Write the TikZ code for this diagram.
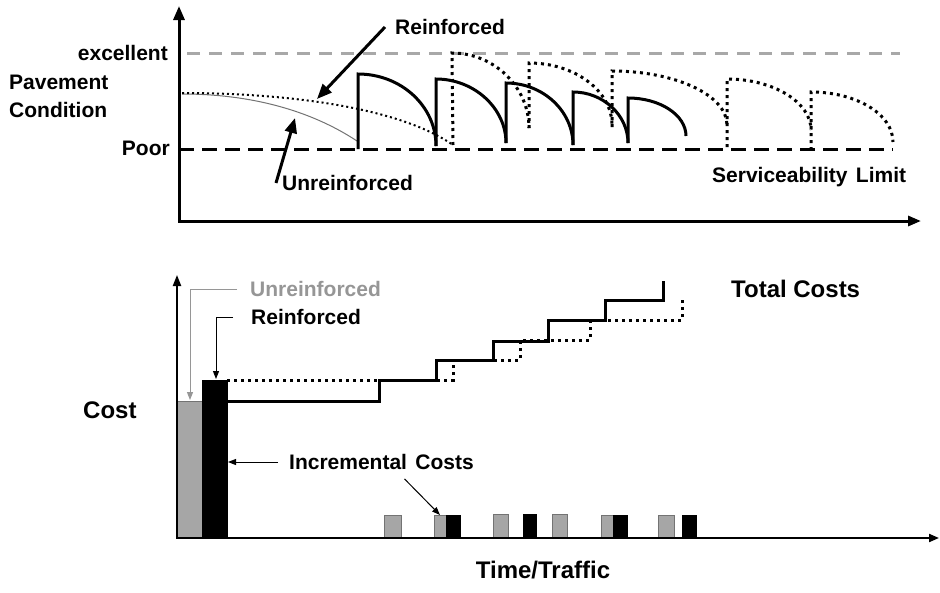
\documentclass[tikz,border=0pt]{standalone}
\usepackage{fontspec}
\setmainfont{Liberation Sans}
\usetikzlibrary{arrows.meta}
\definecolor{bargray}{RGB}{166,166,166}
\definecolor{edgegray}{RGB}{115,115,115}
\definecolor{txtgray}{RGB}{150,150,150}
\definecolor{linegray}{RGB}{168,168,168}
\begin{document}
\begin{tikzpicture}[x=1pt,y=-1pt,
    lbl/.style={font=\fontsize{21}{28}\selectfont\bfseries, inner sep=2pt},
    biglbl/.style={font=\fontsize{24}{28}\selectfont\bfseries, inner sep=2pt},
    axisT/.style={line width=3pt, {Triangle[length=14pt,width=11pt]}-{Triangle[length=13pt,width=10pt]}},
    axisB/.style={line width=2pt, {Triangle[length=11pt,width=8pt]}-{Triangle[length=10pt,width=8pt]}},
    cycle/.style={line width=3pt},
    cycdot/.style={line width=3pt, dash pattern=on 3pt off 4pt},
    stepdot/.style={line width=3pt, dash pattern=on 3pt off 4pt},
    bigarr/.style={line width=3pt, -{Triangle[length=15pt,width=12pt]}},
    thinarr/.style={line width=1pt, -{Triangle[length=8pt,width=6pt]}},
    graybar/.style={fill=bargray, draw=edgegray, line width=1pt},
    blackbar/.style={fill=black, draw=black, line width=1pt}]
  \useasboundingbox (0,0) rectangle (940,592);

  % upper chart: condition over time
  \draw[linegray, line width=3pt, dash pattern=on 13pt off 9pt] (187,53) -- (900,53);
  \draw[black, line width=3pt, dash pattern=on 15pt off 8pt] (179,149) -- (893,149);
  \draw[axisT] (179,6) -- (179,221) -- (921,221);

  \draw[edgegray, line width=1pt] (182,94) .. controls (250,94) and (310,110) .. (357,141);
  \draw[line width=2pt, dash pattern=on 2pt off 3pt] (182,93) .. controls (290,93) and (400,108) .. (453,145);

  \draw[cycle] (358,149) -- (358,74) .. controls (401,74) and (436,106) .. (436,146);
  \draw[cycle] (436,146) -- (436,79) .. controls (474,79) and (506,108) .. (506,143);
  \draw[cycle] (506,143) -- (506,83) .. controls (543,83) and (573,111) .. (573,145);
  \draw[cycle] (573,145) -- (573,92) .. controls (603,92) and (628,115) .. (628,143);
  \draw[cycle] (628,143) -- (628,98) .. controls (660,98) and (686,115) .. (686,136);

  \draw[cycdot] (453,145) -- (452,53) .. controls (494,53) and (529,87) .. (529,128);
  \draw[cycdot] (529,128) -- (529,63) .. controls (575,63) and (612,91) .. (612,125);
  \draw[cycdot] (612,127) -- (612,71) .. controls (675,71) and (727,95) .. (727,125);
  \draw[cycdot] (727,147) -- (727,79) .. controls (773,79) and (811,102) .. (811,130);
  \draw[cycdot] (811,150) -- (811,92) .. controls (856,92) and (893,114) .. (893,142);

  \node[lbl, anchor=east] (excellent) at (170,53) {excellent};
  \node[lbl, anchor=west, align=left] (pavement) at (7,96) {Pavement\\Condition};
  \node[lbl, anchor=east] (poor) at (172,148) {Poor};
  \node[lbl, anchor=west] (serv) at (710,177) {Serviceability\hspace{0.4em}Limit};
  \node[lbl, anchor=west] (reinfT) at (393,27) {Reinforced};
  \node[lbl, anchor=west] (unreinfT) at (280,183) {Unreinforced};
  \coordinate (reinfpt) at (317,99);
  \coordinate (unreinfpt) at (295,118);
  \draw[bigarr] ([xshift=-8pt]reinfT.west) -- (reinfpt);
  \draw[bigarr] ([xshift=-4pt]unreinfT.west) -- (unreinfpt);

  % lower chart: costs over time
  \filldraw[graybar] (177,401) rectangle (202,538);
  \filldraw[blackbar] (202,380) rectangle (227,538);
  \filldraw[graybar] (384,515) rectangle (401,538);
  \filldraw[graybar] (434,515) rectangle (446,538);
  \filldraw[blackbar] (446,515) rectangle (460,538);
  \filldraw[graybar] (493,514) rectangle (508,538);
  \filldraw[blackbar] (523,514) rectangle (536,538);
  \filldraw[graybar] (552,514) rectangle (567,538);
  \filldraw[graybar] (601,515) rectangle (613,538);
  \filldraw[blackbar] (613,515) rectangle (627,538);
  \filldraw[graybar] (658,515) rectangle (674,538);
  \filldraw[blackbar] (682,515) rectangle (696,538);
  \draw[axisB] (177,275) -- (177,538) -- (939,538);

  \draw[stepdot] (227,380) -- (453,380) -- (453,360) -- (520,360) -- (520,340)
     -- (590,340) -- (590,320) -- (682,320) -- (682,298);
  \draw[line width=3pt] (227,401) -- (379,401) -- (379,380) -- (436,380) -- (436,360)
     -- (493,360) -- (493,341) -- (548,341) -- (548,320) -- (605,320) -- (605,300)
     -- (663,300) -- (663,281);

  \node[lbl, anchor=west, text=txtgray] (unrC) at (248,289) {Unreinforced};
  \node[lbl, anchor=west] (reiC) at (249,317) {Reinforced};
  \node[lbl, anchor=west] (inc) at (287,462) {Incremental\hspace{0.4em}Costs};
  \node[biglbl, anchor=west] (total) at (729,289) {Total Costs};
  \node[biglbl, anchor=west] (cost) at (81,410) {Cost};
  \node[biglbl] (time) at (543,570) {Time/Traffic};
  \coordinate (unrpt) at (190,400);
  \coordinate (reipt) at (216,379);
  \coordinate (incbig) at (228,462);
  \coordinate (incsmall) at (440,515);
  \draw[thinarr, txtgray] ([xshift=-11pt]unrC.west) -| (unrpt);
  \draw[thinarr] ([xshift=-16pt]reiC.west) -| (reipt);
  \draw[thinarr] ([xshift=-9pt]inc.west) -- (incbig);
  \draw[thinarr] ([xshift=23pt,yshift=-7pt]inc.south) -- (incsmall);
\end{tikzpicture}
\end{document}
